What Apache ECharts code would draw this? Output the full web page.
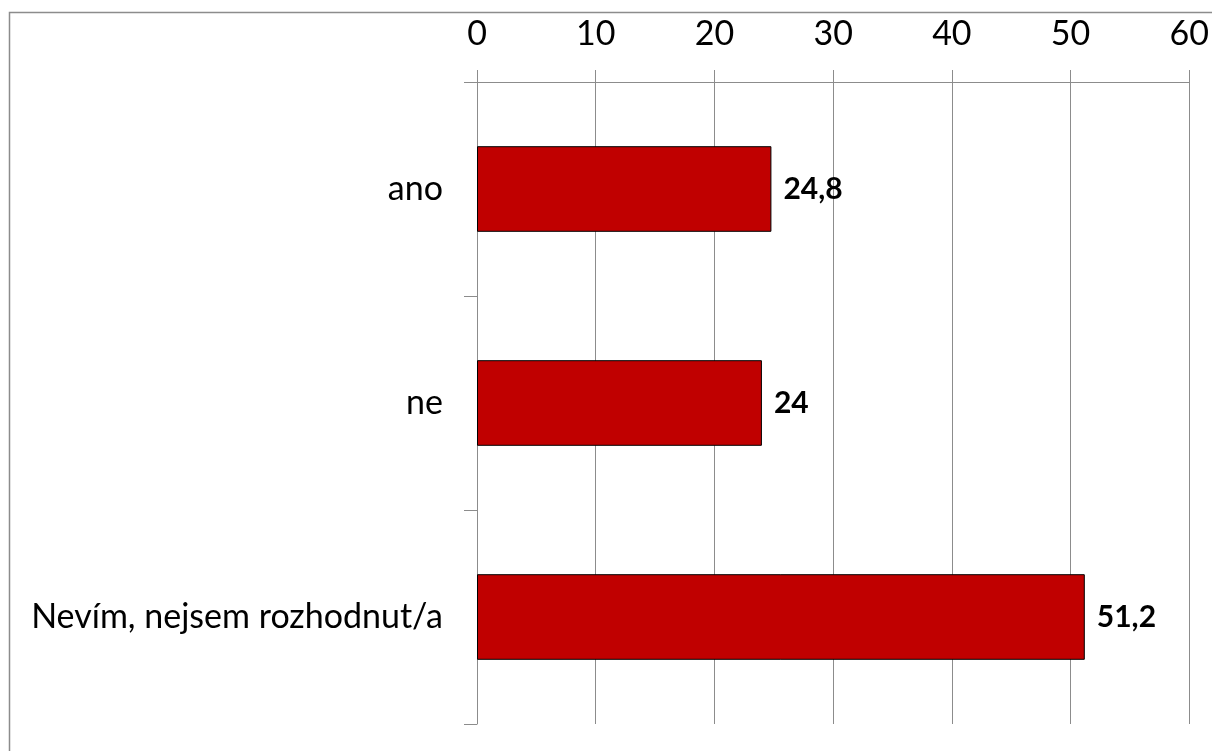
<!DOCTYPE html>
<html>
<head>
<meta charset="utf-8">
<script src="https://cdn.jsdelivr.net/npm/echarts@6/dist/echarts.min.js"></script>
<style>
html,body{margin:0;padding:0;background:#fff;}
#chart{width:1212px;height:751px;}
</style>
</head>
<body>
<div id="chart"></div>
<script>
const categories = ['ano', 'ne', 'Nevím, nejsem rozhodnut/a'];
const values = [24.8, 24, 51.2];
const axisMin = 0, axisMax = 60, axisStep = 10;

const FONT = 'Lato';
const chart = echarts.init(document.getElementById('chart'), null, {renderer: 'canvas'});
chart.setOption({
  animation: false,
  backgroundColor: '#ffffff',
  graphic: [{
    type: 'rect', silent: true,
    shape: {x: 9.5, y: 12.5, width: 1400, height: 1000},
    style: {fill: 'none', stroke: '#8c8c8c', lineWidth: 1.5}
  }],
  grid: {left: 477, right: 20, top: 82, bottom: 27, containLabel: false},
  xAxis: {
    type: 'value', position: 'top',
    min: axisMin, max: axisMax, interval: axisStep,
    axisLine: {show: true, lineStyle: {color: '#8c8c8c', width: 1}},
    axisTick: {show: true, length: 12, lineStyle: {color: '#8c8c8c'}},
    splitLine: {show: true, lineStyle: {color: '#8c8c8c', width: 1}},
    axisLabel: {color: '#000', fontFamily: FONT, fontSize: 34, margin: 31,
      formatter: v => String(v)}
  },
  yAxis: {
    type: 'category', inverse: true, data: categories,
    axisLine: {show: true, lineStyle: {color: '#8c8c8c', width: 1}},
    axisTick: {show: true, length: 13, lineStyle: {color: '#8c8c8c'}},
    axisLabel: {color: '#000', fontFamily: FONT, fontSize: 34, margin: 34}
  },
  series: [{
    type: 'bar', data: values, barCategoryGap: '60%',
    itemStyle: {color: '#C00000', borderColor: '#000', borderWidth: 1},
    label: {show: true, position: 'right', distance: 12, color: '#000',
      fontFamily: FONT, fontWeight: 'bold', fontSize: 30,
      formatter: p => String(p.value).replace('.', ',')}
  }]
});
</script>
</body>
</html>
